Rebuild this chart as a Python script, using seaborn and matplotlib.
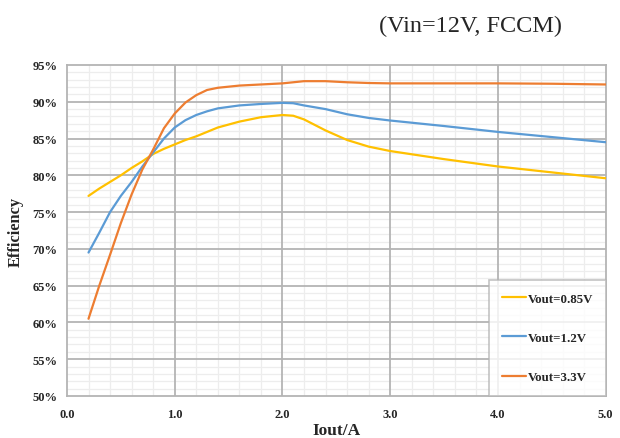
import matplotlib
matplotlib.use("Agg")
import matplotlib.pyplot as plt
from matplotlib.ticker import MultipleLocator, FuncFormatter
import pandas as pd
import seaborn as sns

# output current (A)
iout = [0.2, 0.3, 0.4, 0.5, 0.6, 0.7, 0.8, 0.9, 1.0, 1.1, 1.2, 1.3, 1.4,
        1.6, 1.8, 2.0, 2.1, 2.2, 2.4, 2.6, 2.8, 3.0, 3.5, 4.0, 4.5, 5.0]

# efficiency in %
eff_085 = [77.2, 78.2, 79.1, 80.0, 81.0, 81.9, 82.9, 83.6, 84.2, 84.8, 85.3, 85.9, 86.5,
           87.3, 87.9, 88.2, 88.1, 87.6, 86.1, 84.8, 83.9, 83.3, 82.2, 81.2, 80.4, 79.6]
eff_12 = [69.5, 72.2, 75.0, 77.2, 79.1, 81.2, 83.1, 85.0, 86.5, 87.5, 88.2, 88.7, 89.1,
          89.5, 89.7, 89.85, 89.8, 89.5, 89.0, 88.3, 87.8, 87.45, 86.7, 85.9, 85.2, 84.5]
eff_33 = [60.5, 65.0, 69.2, 73.5, 77.4, 80.8, 83.5, 86.4, 88.4, 89.9, 90.9, 91.6, 91.9,
          92.2, 92.35, 92.5, 92.65, 92.8, 92.8, 92.65, 92.55, 92.5, 92.5, 92.5, 92.45, 92.35]

labels = ["Vout=0.85V", "Vout=1.2V", "Vout=3.3V"]
colors = ["#FFC000", "#5B9BD5", "#ED7D31"]

df = pd.DataFrame({
    "Iout": iout * 3,
    "Efficiency": eff_085 + eff_12 + eff_33,
    "series": [labels[0]] * len(iout) + [labels[1]] * len(iout) + [labels[2]] * len(iout),
})

sns.set_theme(style="white")
plt.rcParams["font.family"] = ["Liberation Serif", "DejaVu Serif"]

fig = plt.figure(figsize=(6.2, 4.39), dpi=100)
ax = fig.add_axes([0.108, 0.0957, 0.869, 0.754])

sns.lineplot(data=df, x="Iout", y="Efficiency", hue="series", palette=colors,
             linewidth=1.6, ax=ax, sort=False, zorder=3)

ax.set_xlim(0, 5)
ax.set_ylim(50, 95)
ax.xaxis.set_major_locator(MultipleLocator(1.0))
ax.xaxis.set_minor_locator(MultipleLocator(0.2))
ax.yaxis.set_major_locator(MultipleLocator(5))
ax.yaxis.set_minor_locator(MultipleLocator(1))
ax.xaxis.set_major_formatter(FuncFormatter(lambda v, p: f"{v:.1f}"))
ax.yaxis.set_major_formatter(FuncFormatter(lambda v, p: f"{v:.0f}%"))

# light minor grid underneath, darker major grid drawn on top of it
ax.set_axisbelow(True)
ax.grid(which="minor", color="#EDEDED", linewidth=0.9)
ax.grid(which="major", visible=False)
for v in [1, 2, 3, 4]:
    ax.axvline(v, color="#B4B4B4", linewidth=1.3, zorder=1)
for v in range(55, 95, 5):
    ax.axhline(v, color="#B4B4B4", linewidth=1.3, zorder=1)
for s in ax.spines.values():
    s.set_color("#B4B4B4")
    s.set_linewidth(1.3)

ax.tick_params(which="both", length=0)
ax.tick_params(axis="x", pad=9)
ax.tick_params(axis="y", pad=7)
for t in ax.get_xticklabels() + ax.get_yticklabels():
    t.set_fontweight("bold")
    t.set_fontsize(9)

ax.set_xlabel("Iout/A", fontsize=12.5, fontweight="bold", labelpad=1)
ax.set_ylabel("Efficiency", fontsize=11.8, fontweight="bold", labelpad=6)

fig.text(0.612, 0.94, "(Vin=12V, FCCM)", fontsize=17.5, ha="left", va="center")

leg = ax.legend(loc="lower right", frameon=True, fancybox=False, borderaxespad=0,
                labelspacing=2.1, handlelength=1.8, handletextpad=0.15,
                borderpad=1.0, prop={"weight": "bold", "size": 9.3})
leg.get_frame().set_edgecolor("#B4B4B4")
leg.get_frame().set_linewidth(1.2)
leg.set_zorder(5)

fig.savefig("out.png", dpi=100)
